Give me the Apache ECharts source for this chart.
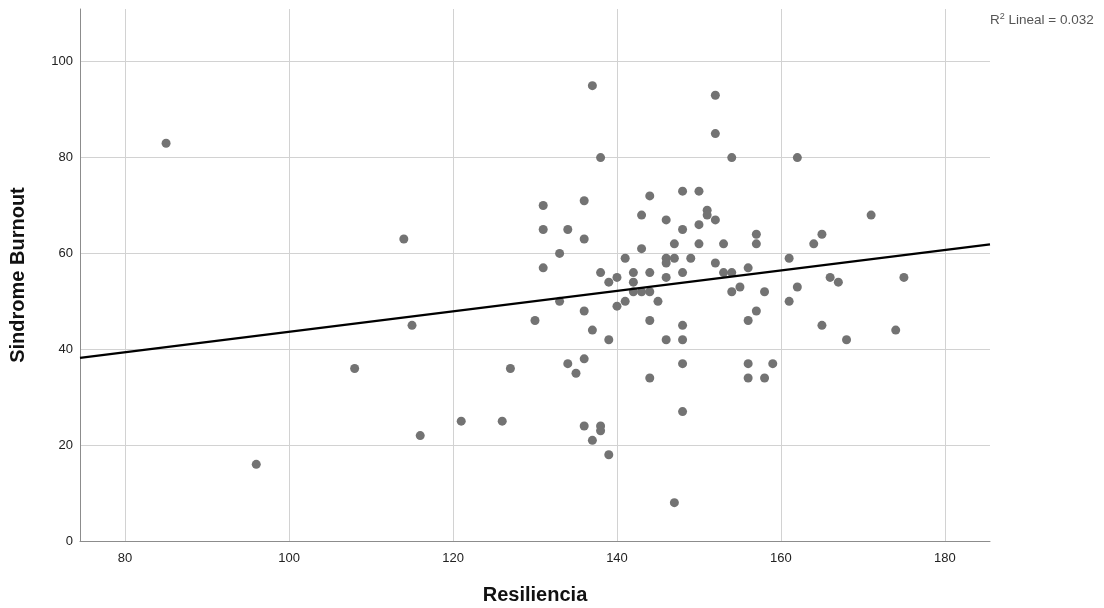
<!DOCTYPE html>
<html>
<head>
<meta charset="utf-8">
<script src="https://cdn.jsdelivr.net/npm/echarts@6/dist/echarts.min.js"></script>
<style>
html,body{margin:0;padding:0;background:#fff;}
#chart{width:1104px;height:608px;}
</style>
</head>
<body>
<div id="chart"></div>
<script>
// Resiliencia (x) values
var resiliencia = [85,96,108,114,115,116,121,126,127,130,
  131,131,131,133,133,134,134,135,
  136,136,136,136,136,137,137,137,
  138,138,138,138,139,139,139,140,140,
  141,141,142,142,142,143,143,143,
  144,144,144,144,144,145,
  146,146,146,146,146,147,147,147,
  148,148,148,148,148,148,148,149,
  150,150,150,151,151,152,152,152,152,
  153,153,154,154,154,155,
  156,156,156,156,157,157,157,158,158,159,
  161,161,162,162,164,165,165,166,167,168,171,174,175];
// Sindrome Burnout (y) values
var burnout = [83,16,36,63,45,22,25,25,36,46,
  70,65,57,60,50,65,37,35,
  71,63,48,38,24,95,44,21,
  80,56,24,23,54,42,18,55,49,
  59,50,56,54,52,68,61,52,
  72,56,52,46,34,50,
  67,59,58,55,42,62,59,8,
  73,65,56,45,42,37,27,59,
  73,66,62,69,68,93,85,67,58,
  62,56,80,56,52,53,
  57,46,37,34,64,62,48,52,34,37,
  59,50,80,53,62,64,45,55,54,42,68,44,55];
// Linear fit line endpoints
var fitX = [74.5, 185.5];
var fitY = [38.2, 61.9];
// Tick labels
var xTicks = [80,100,120,140,160,180];
var yTicks = [0,20,40,60,80,100];
var r2Text = '0.032';

var points = resiliencia.map(function(x,i){return [x, burnout[i]];});
var fitLine = fitX.map(function(x,i){return [x, fitY[i]];});

var chart = echarts.init(document.getElementById('chart'), null, {renderer:'canvas'});
var fontFam = '"Liberation Sans", Arial, sans-serif';
chart.setOption({
  animation:false,
  backgroundColor:'#ffffff',
  grid:{left:80,right:114,top:9,bottom:67,containLabel:false,outerBoundsMode:'none'},
  xAxis:{
    type:'value', min:74.5, max:185.5,
    name:'Resiliencia', nameLocation:'middle', nameGap:44,
    nameTextStyle:{fontFamily:fontFam,fontSize:20,fontWeight:'bold',color:'#111'},
    axisLine:{show:true,lineStyle:{color:'#8c8c8c',width:1}},
    axisTick:{show:false, customValues:xTicks},
    axisLabel:{customValues:xTicks, fontFamily:fontFam,fontSize:13,color:'#222',margin:11},
    splitLine:{show:true,lineStyle:{color:'#d2d2d2',width:1}}
  },
  yAxis:{
    type:'value', min:0, max:111,
    name:'Sindrome Burnout', nameLocation:'middle', nameGap:52, nameRotate:90,
    nameTextStyle:{fontFamily:fontFam,fontSize:20,fontWeight:'bold',color:'#111'},
    axisLine:{show:true,lineStyle:{color:'#8c8c8c',width:1}},
    axisTick:{show:false, customValues:yTicks},
    axisLabel:{customValues:yTicks, fontFamily:fontFam,fontSize:13,color:'#222',margin:7,padding:[3,0,0,0]},
    splitLine:{show:true,lineStyle:{color:'#d2d2d2',width:1}}
  },
  graphic:[{
    type:'text', left:990, top:12,
    style:{
      text:'{a|R}{s|2}{a| Lineal = '+r2Text+'}',
      rich:{
        a:{fontFamily:fontFam,fontSize:13.5,fill:'#555',verticalAlign:'bottom'},
        s:{fontFamily:fontFam,fontSize:9,fill:'#555',verticalAlign:'top',padding:[0,0,6,0]}
      }
    }
  }],
  series:[{
    type:'scatter', data:points, symbol:'circle', symbolSize:9,
    itemStyle:{color:'#737373',opacity:1}, z:2
  },{
    type:'line', data:fitLine, symbol:'none', showSymbol:false,
    lineStyle:{color:'#000',width:2.2}, z:3, silent:true
  }]
});
</script>
</body>
</html>
